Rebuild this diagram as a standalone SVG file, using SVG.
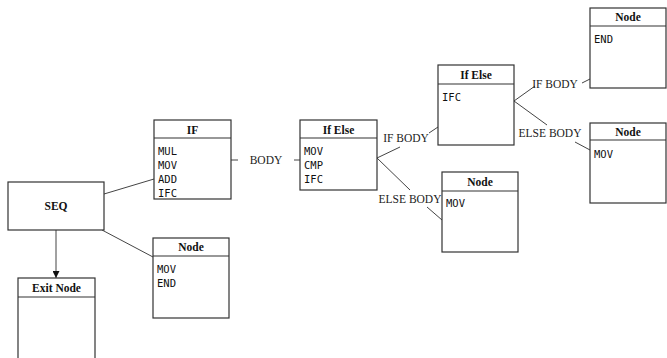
<svg xmlns="http://www.w3.org/2000/svg" width="667" height="358" viewBox="0 0 667 358">
  <style>
    .box { fill: #ffffff; stroke: #333333; stroke-width: 1.2; }
    .sep { stroke: #333333; stroke-width: 1.2; }
    .title { font-family: "Liberation Serif", serif; font-weight: bold; font-size: 11.5px; fill: #111111; text-anchor: middle; }
    .row { font-family: "DejaVu Sans Mono", monospace; font-size: 10.5px; fill: #111111; }
    .label { font-family: "Liberation Serif", serif; font-size: 11.5px; fill: #222222; text-anchor: middle; }
    .edge { stroke: #444444; stroke-width: 1; fill: none; }
  </style>
  <defs>
    <marker id="arrow" viewBox="0 0 10 10" refX="10" refY="5" markerWidth="7" markerHeight="7" orient="auto" markerUnits="userSpaceOnUse">
      <path d="M0,0 L10,5 L0,10 z" fill="#111111"/>
    </marker>
  </defs>
  <rect width="667" height="358" fill="#ffffff"/>

  <g id="connectors">
    <line class="edge" x1="104" y1="194" x2="154" y2="179"/>
    <line class="edge" x1="102" y1="230" x2="153" y2="257"/>
    <line class="edge" x1="56" y1="230" x2="56" y2="278" marker-end="url(#arrow)"/>
    <line class="edge" x1="231" y1="160" x2="238" y2="160"/>
    <text class="label" x="266" y="164">BODY</text>
    <line class="edge" x1="294" y1="160" x2="300" y2="160"/>
    <line class="edge" x1="377" y1="158" x2="400" y2="147"/>
    <text class="label" x="406" y="142">IF BODY</text>
    <line class="edge" x1="429" y1="133" x2="438" y2="127"/>
    <line class="edge" x1="377" y1="158" x2="410" y2="190"/>
    <text class="label" x="410" y="203">ELSE BODY</text>
    <line class="edge" x1="427" y1="207" x2="442" y2="220"/>
    <line class="edge" x1="514" y1="101" x2="535" y2="86"/>
    <text class="label" x="555" y="88">IF BODY</text>
    <line class="edge" x1="582" y1="83" x2="590" y2="79"/>
    <line class="edge" x1="514" y1="101" x2="547" y2="125"/>
    <text class="label" x="550" y="137">ELSE BODY</text>
    <line class="edge" x1="575" y1="142" x2="590" y2="150"/>
  </g>

  <g id="seq">
    <rect class="box" x="8" y="182" width="96" height="48"/>
    <text class="title" x="56" y="210">SEQ</text>
  </g>

  <g id="exit-node">
    <rect class="box" x="18" y="278" width="77" height="84"/>
    <line class="sep" x1="18" y1="297" x2="95" y2="297"/>
    <text class="title" x="56.5" y="292">Exit Node</text>
  </g>

  <g id="if">
    <rect class="box" x="154" y="120" width="77" height="79"/>
    <line class="sep" x1="154" y1="138" x2="231" y2="138"/>
    <text class="title" x="192.5" y="134">IF</text>
    <text class="row" x="158" y="154.5">MUL</text>
    <text class="row" x="158" y="168.8">MOV</text>
    <text class="row" x="158" y="183">ADD</text>
    <text class="row" x="158" y="197.3">IFC</text>
  </g>

  <g id="seq-node">
    <rect class="box" x="153" y="238" width="76" height="80"/>
    <line class="sep" x1="153" y1="256" x2="229" y2="256"/>
    <text class="title" x="191" y="251">Node</text>
    <text class="row" x="157" y="273">MOV</text>
    <text class="row" x="157" y="287">END</text>
  </g>

  <g id="if-else-1">
    <rect class="box" x="300" y="120" width="77" height="70"/>
    <line class="sep" x1="300" y1="138" x2="377" y2="138"/>
    <text class="title" x="338.5" y="134">If Else</text>
    <text class="row" x="304" y="154.5">MOV</text>
    <text class="row" x="304" y="168.8">CMP</text>
    <text class="row" x="304" y="183">IFC</text>
  </g>

  <g id="if-else-2">
    <rect class="box" x="438" y="65" width="76" height="80"/>
    <line class="sep" x1="438" y1="84" x2="514" y2="84"/>
    <text class="title" x="476" y="79">If Else</text>
    <text class="row" x="442" y="101">IFC</text>
  </g>

  <g id="else-node-1">
    <rect class="box" x="442" y="172" width="76" height="80"/>
    <line class="sep" x1="442" y1="191" x2="518" y2="191"/>
    <text class="title" x="480" y="186">Node</text>
    <text class="row" x="446" y="207">MOV</text>
  </g>

  <g id="if-node-2">
    <rect class="box" x="590" y="8" width="76" height="80"/>
    <line class="sep" x1="590" y1="26" x2="666" y2="26"/>
    <text class="title" x="628" y="21">Node</text>
    <text class="row" x="594" y="43">END</text>
  </g>

  <g id="else-node-2">
    <rect class="box" x="590" y="123" width="76" height="80"/>
    <line class="sep" x1="590" y1="140" x2="666" y2="140"/>
    <text class="title" x="628" y="136">Node</text>
    <text class="row" x="594" y="158">MOV</text>
  </g>
</svg>
